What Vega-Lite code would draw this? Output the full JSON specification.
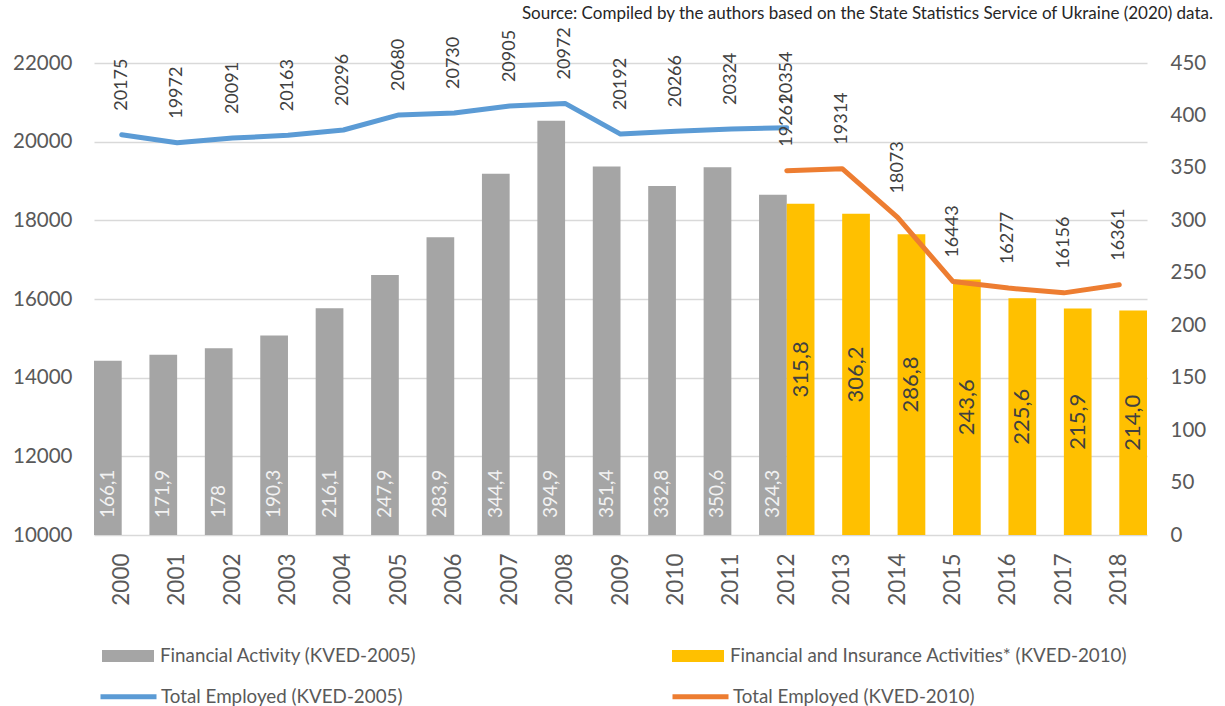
{
  "$schema": "https://vega.github.io/schema/vega-lite/v6.json",
  "width": 1053,
  "height": 472,
  "autosize": {"type": "none"},
  "padding": {"left": 94, "top": 63, "right": 78, "bottom": 171},
  "background": "white",
  "title": {
    "text": "Source: Compiled by the authors based on the State Statistics Service of Ukraine (2020) data.",
    "anchor": "end",
    "frame": "group",
    "dx": 66,
    "offset": 4,
    "font": "Lato",
    "fontSize": 17,
    "fontWeight": "normal",
    "color": "#262626"
  },
  "config": {
    "view": {"stroke": null},
    "font": "Lato",
    "axis": {"labelFont": "Lato", "labelColor": "#595959", "ticks": false, "domain": false, "title": null}
  },
  "datasets": {
    "bars": [
      {"year": "2000", "series": "Financial Activity (KVED-2005)", "value": 166.1, "label": "166,1"},
      {"year": "2001", "series": "Financial Activity (KVED-2005)", "value": 171.9, "label": "171,9"},
      {"year": "2002", "series": "Financial Activity (KVED-2005)", "value": 178.0, "label": "178"},
      {"year": "2003", "series": "Financial Activity (KVED-2005)", "value": 190.3, "label": "190,3"},
      {"year": "2004", "series": "Financial Activity (KVED-2005)", "value": 216.1, "label": "216,1"},
      {"year": "2005", "series": "Financial Activity (KVED-2005)", "value": 247.9, "label": "247,9"},
      {"year": "2006", "series": "Financial Activity (KVED-2005)", "value": 283.9, "label": "283,9"},
      {"year": "2007", "series": "Financial Activity (KVED-2005)", "value": 344.4, "label": "344,4"},
      {"year": "2008", "series": "Financial Activity (KVED-2005)", "value": 394.9, "label": "394,9"},
      {"year": "2009", "series": "Financial Activity (KVED-2005)", "value": 351.4, "label": "351,4"},
      {"year": "2010", "series": "Financial Activity (KVED-2005)", "value": 332.8, "label": "332,8"},
      {"year": "2011", "series": "Financial Activity (KVED-2005)", "value": 350.6, "label": "350,6"},
      {"year": "2012", "series": "Financial Activity (KVED-2005)", "value": 324.3, "label": "324,3"},
      {"year": "2012", "series": "Financial and Insurance Activities* (KVED-2010)", "value": 315.8, "label": "315,8"},
      {"year": "2013", "series": "Financial and Insurance Activities* (KVED-2010)", "value": 306.2, "label": "306,2"},
      {"year": "2014", "series": "Financial and Insurance Activities* (KVED-2010)", "value": 286.8, "label": "286,8"},
      {"year": "2015", "series": "Financial and Insurance Activities* (KVED-2010)", "value": 243.6, "label": "243,6"},
      {"year": "2016", "series": "Financial and Insurance Activities* (KVED-2010)", "value": 225.6, "label": "225,6"},
      {"year": "2017", "series": "Financial and Insurance Activities* (KVED-2010)", "value": 215.9, "label": "215,9"},
      {"year": "2018", "series": "Financial and Insurance Activities* (KVED-2010)", "value": 214.0, "label": "214,0"}
    ],
    "lines": [
      {"year": "2000", "series": "Total Employed (KVED-2005)", "value": 20175},
      {"year": "2001", "series": "Total Employed (KVED-2005)", "value": 19972},
      {"year": "2002", "series": "Total Employed (KVED-2005)", "value": 20091},
      {"year": "2003", "series": "Total Employed (KVED-2005)", "value": 20163},
      {"year": "2004", "series": "Total Employed (KVED-2005)", "value": 20296},
      {"year": "2005", "series": "Total Employed (KVED-2005)", "value": 20680},
      {"year": "2006", "series": "Total Employed (KVED-2005)", "value": 20730},
      {"year": "2007", "series": "Total Employed (KVED-2005)", "value": 20905},
      {"year": "2008", "series": "Total Employed (KVED-2005)", "value": 20972},
      {"year": "2009", "series": "Total Employed (KVED-2005)", "value": 20192},
      {"year": "2010", "series": "Total Employed (KVED-2005)", "value": 20266},
      {"year": "2011", "series": "Total Employed (KVED-2005)", "value": 20324},
      {"year": "2012", "series": "Total Employed (KVED-2005)", "value": 20354},
      {"year": "2012", "series": "Total Employed (KVED-2010)", "value": 19261},
      {"year": "2013", "series": "Total Employed (KVED-2010)", "value": 19314},
      {"year": "2014", "series": "Total Employed (KVED-2010)", "value": 18073},
      {"year": "2015", "series": "Total Employed (KVED-2010)", "value": 16443},
      {"year": "2016", "series": "Total Employed (KVED-2010)", "value": 16277},
      {"year": "2017", "series": "Total Employed (KVED-2010)", "value": 16156},
      {"year": "2018", "series": "Total Employed (KVED-2010)", "value": 16361}
    ]
  },
  "encoding": {
    "x": {
      "field": "year",
      "type": "ordinal",
      "scale": {"type": "band", "paddingInner": 0, "paddingOuter": 0},
      "axis": {"labelAngle": -90, "labelFontSize": 22.5, "labelPadding": 18, "title": null}
    }
  },
  "layer": [
    {
      "data": {"name": "bars"},
      "mark": {"type": "bar"},
      "encoding": {
        "xOffset": {"field": "series", "scale": {"domain": ["Financial Activity (KVED-2005)", "Financial and Insurance Activities* (KVED-2010)"], "paddingInner": 0, "paddingOuter": 0}},
        "y": {
          "field": "value",
          "type": "quantitative",
          "scale": {"domain": [0, 450], "nice": false, "zero": true},
          "axis": {"orient": "right", "values": [0, 50, 100, 150, 200, 250, 300, 350, 400, 450], "grid": false, "labelFontSize": 20.5, "labelPadding": 23}
        },
        "fill": {
          "field": "series",
          "type": "nominal",
          "scale": {"domain": ["Financial Activity (KVED-2005)", "Financial and Insurance Activities* (KVED-2010)"], "range": ["#a5a5a5", "#ffc000"]},
          "legend": {
            "orient": "none", "legendX": 8, "legendY": 567, "direction": "horizontal", "columns": 2, "columnPadding": 255,
            "title": null, "padding": 0, "symbolType": "M-1,-0.23H1V0.23H-1Z", "symbolSize": 2704, "symbolStrokeWidth": 0,
            "labelOffset": 6, "labelFont": "Lato", "labelFontSize": 18.8, "labelColor": "#595959", "labelLimit": 600
          }
        }
      }
    },
    {
      "data": {"name": "bars"},
      "transform": [{"filter": "datum.series === 'Financial Activity (KVED-2005)'"}],
      "mark": {"type": "text", "angle": 270, "align": "left", "baseline": "middle", "dx": 17, "font": "Lato", "fontSize": 19, "color": "#f2f2f2"},
      "encoding": {
        "xOffset": {"field": "series", "scale": {"domain": ["Financial Activity (KVED-2005)", "Financial and Insurance Activities* (KVED-2010)"], "paddingInner": 0, "paddingOuter": 0}},
        "y": {"datum": 0, "type": "quantitative", "scale": {"domain": [0, 450], "nice": false}, "axis": null},
        "text": {"field": "label"}
      }
    },
    {
      "data": {"name": "bars"},
      "transform": [{"filter": "datum.series === 'Financial and Insurance Activities* (KVED-2010)'"}],
      "mark": {"type": "text", "angle": 270, "align": "center", "baseline": "middle", "font": "Lato", "fontSize": 22, "color": "#404040"},
      "encoding": {
        "xOffset": {"field": "series", "scale": {"domain": ["Financial Activity (KVED-2005)", "Financial and Insurance Activities* (KVED-2010)"], "paddingInner": 0, "paddingOuter": 0}},
        "y": {"field": "value", "type": "quantitative", "scale": {"domain": [0, 900], "nice": false}, "axis": null},
        "text": {"field": "label"}
      }
    },
    {
      "data": {"name": "lines"},
      "mark": {"type": "line", "strokeWidth": 5, "strokeCap": "round", "strokeJoin": "round"},
      "encoding": {
        "y": {
          "field": "value",
          "type": "quantitative",
          "scale": {"domain": [10000, 22000], "nice": false, "zero": false},
          "axis": {"orient": "left", "values": [10000, 12000, 14000, 16000, 18000, 20000, 22000], "format": "d", "grid": true, "gridColor": "#d9d9d9", "gridWidth": 1.3, "labelFontSize": 20.5, "labelPadding": 22}
        },
        "stroke": {
          "field": "series",
          "type": "nominal",
          "scale": {"domain": ["Total Employed (KVED-2005)", "Total Employed (KVED-2010)"], "range": ["#5b9bd5", "#ed7d31"]},
          "legend": {
            "orient": "none", "legendX": 4, "legendY": 603, "direction": "horizontal", "columns": 2, "columnPadding": 259,
            "title": null, "padding": 0, "symbolType": "stroke", "symbolSize": 3136, "symbolStrokeWidth": 5,
            "labelOffset": 2, "labelFont": "Lato", "labelFontSize": 18.8, "labelColor": "#595959", "labelLimit": 600
          }
        }
      }
    },
    {
      "data": {"name": "lines"},
      "mark": {"type": "text", "angle": 270, "align": "left", "baseline": "middle", "dx": 24, "font": "Lato", "fontSize": 18, "color": "#404040"},
      "encoding": {
        "y": {"field": "value", "type": "quantitative", "scale": {"domain": [10000, 22000], "nice": false, "zero": false}, "axis": null},
        "text": {"field": "value", "type": "quantitative", "format": "d"}
      }
    }
  ],
  "resolve": {"scale": {"y": "independent", "fill": "independent", "stroke": "independent"}}
}
